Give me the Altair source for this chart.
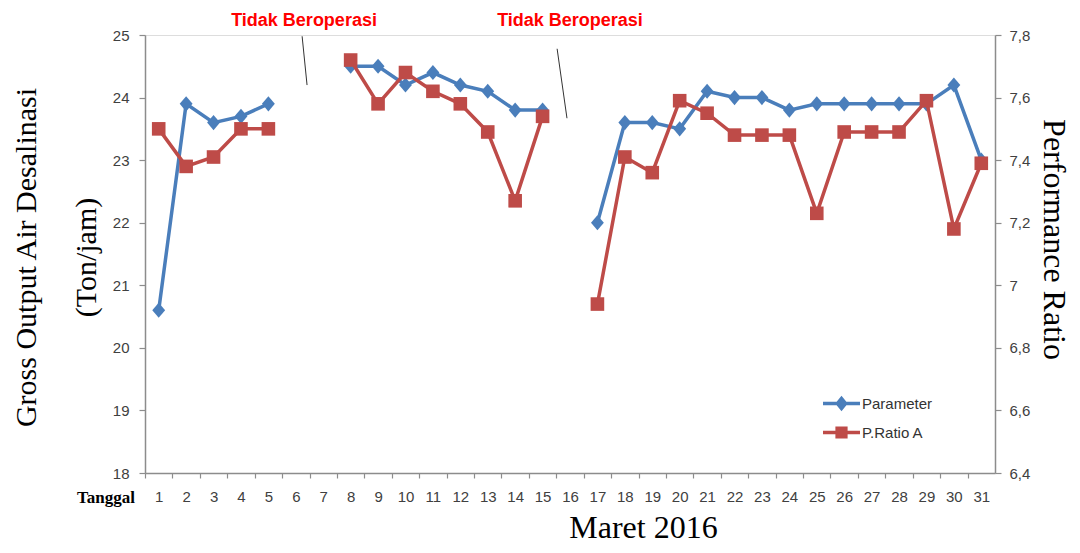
import altair as alt
import pandas as pd

# ---------------- data ----------------
days = [1, 2, 3, 4, 5, 8, 9, 10, 11, 12, 13, 14, 15,
        17, 18, 19, 20, 21, 22, 23, 24, 25, 26, 27, 28, 29, 30, 31]
parameter = [20.6, 23.9, 23.6, 23.7, 23.9,
             24.5, 24.5, 24.2, 24.4, 24.2, 24.1, 23.8, 23.8,
             22.0, 23.6, 23.6, 23.5, 24.1, 24.0, 24.0, 23.8, 23.9, 23.9, 23.9, 23.9, 23.9, 24.2, 23.0]
p_ratio = [7.50, 7.38, 7.41, 7.50, 7.50,
           7.72, 7.58, 7.68, 7.62, 7.58, 7.49, 7.27, 7.54,
           6.94, 7.41, 7.36, 7.59, 7.55, 7.48, 7.48, 7.48, 7.23, 7.49, 7.49, 7.49, 7.59, 7.18, 7.39]
series_names = ["Parameter", "P.Ratio A"]

day_ticks = list(range(1, 32))
left_ticks = [18, 19, 20, 21, 22, 23, 24, 25]
right_ticks = [6.4, 6.6, 6.8, 7.0, 7.2, 7.4, 7.6, 7.8]

note_text = ["Tidak Beroperasi", "Tidak Beroperasi"]
note_day = [6.3, 16.0]
note_val = [25.23, 25.23]

slash_day1 = [6.23, 15.53]
slash_day2 = [6.41, 15.89]
slash_val1 = [24.98, 24.78]
slash_val2 = [24.20, 23.67]

tanggal_text = ["Tanggal"]
tanggal_day = [-0.92]
tanggal_val = [17.6]

# segment id (lines break where days are missing)
seg = []
s = 0
for i, d in enumerate(days):
    if i > 0 and d - days[i - 1] > 1:
        s += 1
    seg.append(s)

df = pd.DataFrame({"day": days, "param": parameter, "pratio": p_ratio, "seg": seg})
notes = pd.DataFrame({"day": note_day, "val": note_val, "text": note_text})
slashes = pd.DataFrame({"day": slash_day1, "day2": slash_day2, "val": slash_val1, "val2": slash_val2})
tang = pd.DataFrame({"day": tanggal_day, "val": tanggal_val, "text": tanggal_text})
leg = pd.DataFrame({"series": series_names})

# ---------------- style ----------------
BLUE = "#4A7EBB"
RED = "#BE4B48"
AXIS_GREY = "#8c8c8c"
LABEL_FONT = "Liberation Sans"
SERIF = "Liberation Serif"

PLOT_W = 850
PLOT_H = 438
half_band = PLOT_W / 31 / 2

xscale = alt.Scale(domain=[0.5, 31.5], nice=False, zero=False)
xaxis = alt.Axis(
    title="Maret 2016", values=day_ticks, tickOffset=-half_band, labelOffset=half_band,
    labelOverlap=False, labelFlush=False, grid=False, tickSize=5, labelPadding=11,
    labelFont=LABEL_FONT, labelFontSize=15, labelColor="#404040",
    titleFont=SERIF, titleFontSize=32, titleFontWeight="normal", titleColor="black",
    titleX=498, titleY=64, titleAlign="center", titleBaseline="alphabetic",
    domainColor=AXIS_GREY, tickColor=AXIS_GREY, domainWidth=1.5, tickWidth=1.2,
)

lscale = alt.Scale(domain=[18, 25], nice=False, zero=False)
laxis = alt.Axis(
    title=["Gross Output Air Desalinasi", "(Ton/jam)"], orient="left", values=left_ticks,
    format="d", grid=False, tickSize=6, labelPadding=10,
    labelFont=LABEL_FONT, labelFontSize=15, labelColor="#404040",
    titleFont=SERIF, titleFontSize=30, titleFontWeight="normal", titleColor="black",
    titleAngle=-90, titleX=-110, titleY=222, titleAlign="center", titleBaseline="alphabetic",
    titleLineHeight=60,
    domainColor=AXIS_GREY, tickColor=AXIS_GREY, domainWidth=1.5, tickWidth=1.2,
)

rscale = alt.Scale(domain=[6.4, 7.8], nice=False, zero=False)
raxis = alt.Axis(
    title="Performance Ratio", orient="right", values=right_ticks,
    labelExpr="replace(format(datum.value, '.1~f'), '.', ',')",
    grid=False, tickSize=6, labelPadding=8,
    labelFont=LABEL_FONT, labelFontSize=15, labelColor="#404040",
    titleFont=SERIF, titleFontSize=32, titleFontWeight="normal", titleColor="black",
    titleAngle=90, titleX=48, titleY=204, titleAlign="center", titleBaseline="alphabetic",
    domainColor=AXIS_GREY, tickColor=AXIS_GREY, domainWidth=1.5, tickWidth=1.2,
)


def X(field):
    return alt.X(f"{field}:Q", scale=xscale, axis=xaxis)


def YL(field):
    return alt.Y(f"{field}:Q", scale=lscale, axis=laxis)


DIAMOND = "M0,-1.08L0.92,0L0,1.08L-0.92,0Z"

blue_line = alt.Chart(df).mark_line(color=BLUE, strokeWidth=3.5).encode(
    x=X("day"), y=YL("param"), detail="seg:N")
blue_pts = alt.Chart(df).mark_point(shape=DIAMOND, filled=True, size=196, color=BLUE, opacity=1).encode(
    x=X("day"), y=YL("param"))

note_layer = alt.Chart(notes).mark_text(
    color="#FF0000", font=LABEL_FONT, fontWeight="bold", fontSize=18, baseline="middle", align="center"
).encode(x=X("day"), y=YL("val"), text="text:N")

slash_layer = alt.Chart(slashes).mark_rule(color="#333333", strokeWidth=1).encode(
    x=X("day"), x2="day2:Q", y=YL("val"), y2="val2:Q")

tang_layer = alt.Chart(tang).mark_text(
    color="black", font=SERIF, fontWeight="bold", fontSize=17, baseline="middle", align="center"
).encode(x=X("day"), y=YL("val"), text="text:N")

left = alt.layer(blue_line, blue_pts, slash_layer, note_layer, tang_layer)

red_line = alt.Chart(df).mark_line(color=RED, strokeWidth=3.5).encode(
    x=X("day"), y=alt.Y("pratio:Q", scale=rscale, axis=raxis), detail="seg:N")
red_pts = alt.Chart(df).mark_point(shape="square", filled=True, size=185, color=RED, opacity=1).encode(
    x=X("day"), y=alt.Y("pratio:Q", scale=rscale, axis=raxis))

right = alt.layer(red_line, red_pts)

LEG_BLUE = "M-1,-0.1H1V0.1H-1Z M0,-0.42L0.34,0L0,0.42L-0.34,0Z"
LEG_RED = "M-1,-0.1H1V0.1H-1Z M-0.33,-0.33H0.33V0.33H-0.33Z"

legend_def = alt.Legend(
    orient="none", legendX=678, legendY=350, title=None, padding=0,
    symbolSize=1369, symbolStrokeWidth=0, symbolOpacity=1, rowPadding=2,
    labelFont=LABEL_FONT, labelFontSize=15, labelColor="#333333", labelOffset=2,
)
legend_layer = alt.Chart(leg).mark_point(filled=True, opacity=0).encode(
    color=alt.Color("series:N", scale=alt.Scale(domain=series_names, range=[BLUE, RED]), legend=legend_def),
    shape=alt.Shape("series:N", scale=alt.Scale(domain=series_names, range=[LEG_BLUE, LEG_RED]), legend=legend_def),
)

chart = alt.layer(left, right, legend_layer).resolve_scale(y="independent").properties(
    width=PLOT_W, height=PLOT_H,
    padding={"left": 137, "top": 27, "right": 77, "bottom": 72},
    autosize=alt.AutoSizeParams(type="none"),
).configure_view(stroke=None).configure(background="white")

chart.save("out.html", embed_options={"renderer": "svg", "actions": False})
